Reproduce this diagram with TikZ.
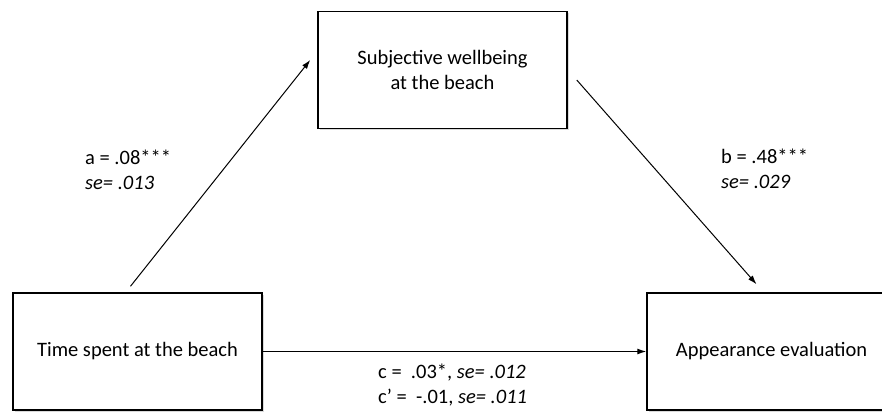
\documentclass[tikz,border=0pt]{standalone}
\usepackage{fontspec}
\setmainfont{Carlito}
\usetikzlibrary{arrows.meta,shadows}
\tikzset{box/.style={rectangle,draw,line width=1.5pt,fill=white,minimum width=249pt,minimum height=117pt,align=center,drop shadow={shadow xshift=1.5pt,shadow yshift=-1.5pt,opacity=0.3}}}
\tikzset{link/.style={-{Latex[length=9pt,width=6pt]},line width=1pt}}
\tikzset{coef/.style={align=left,anchor=west,inner sep=0pt}}

\begin{document}
\begin{tikzpicture}[x=1pt,y=-1pt,font=\fontsize{20.5}{25}\selectfont]
    \clip (0,0) rectangle (882,412);
    \node[box] (well) at (442.5,70) {Subjective wellbeing\\at the beach};
    \node[box] (time) at (137.5,351.5) {Time spent at the beach};
    \node[box] (app) at (771.5,351.5) {Appearance evaluation};
    \draw[link] ([xshift=-7pt,yshift=6pt]time.north) -- ([xshift=-7pt,yshift=10pt]well.west);
    \draw[link] ([xshift=9pt,yshift=-10pt]well.east) -- ([xshift=-15pt,yshift=8pt]app.north);
    \draw[link] (time.east) -- (app.west);
    \node[coef] (a) at (85,170) {a = .08***\\\textit{se= .013}};
    \node[coef] (b) at (721,169) {b = .48***\\\textit{se= .029}};
    \node[coef] (c) at (378,385) {c = \ .03*, \textit{se= .012}\\c’ = \ -.01, \textit{se= .011}};
  \end{tikzpicture}
\end{document}
